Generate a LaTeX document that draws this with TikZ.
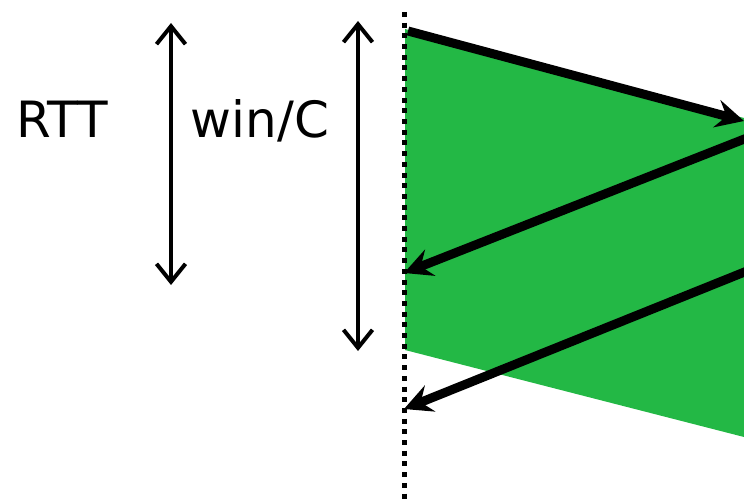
\documentclass[tikz,border=0pt]{standalone}
\usepackage{fontspec}
\setmainfont{DejaVu Sans}
\usetikzlibrary{arrows.meta}

\definecolor{winGreen}{RGB}{35,184,69}

\begin{document}
\begin{tikzpicture}[x=1pt, y=-1pt,
    msg/.style={-{Stealth[length=28pt, width=28pt, inset=10pt]}, line width=9pt},
    span/.style={{Straight Barb[length=18pt, width=29pt]}-{Straight Barb[length=18pt, width=29pt]}, line width=4pt},
    lbl/.style={font=\fontsize{50}{52}\selectfont, anchor=base, inner sep=0pt},
    timeline/.style={line width=5pt, dash pattern=on 5pt off 5.7pt}
]
\useasboundingbox (0,0) rectangle (744,500);

% window in flight
\fill[winGreen] (405,29) -- (744,118) -- (744,437) -- (405,350) -- cycle;

% sender timeline
\coordinate (top) at (404,12);
\coordinate (bot) at (404,502);
\draw[timeline] (top) -- (bot);

% packets and acks
\coordinate (s1) at (408,31);
\coordinate (r1) at (744,121);
\coordinate (r2) at (752,136);
\coordinate (s2) at (404,273);
\coordinate (r3) at (752,269);
\coordinate (s3) at (404,409);
\draw[msg] (s1) -- (r1);
\draw[msg] (r2) -- (s2);
\draw[msg] (r3) -- (s3);

% spans
\coordinate (rttTop) at (171,23);
\coordinate (rttBot) at (171,285);
\coordinate (winTop) at (358,21);
\coordinate (winBot) at (358,351);
\draw[span] (rttTop) -- (rttBot);
\draw[span] (winTop) -- (winBot);

\node[lbl] (rtt) at (62,138) {RTT};
\node[lbl] (win) at (260,138) {win/C};
\end{tikzpicture}
\end{document}
